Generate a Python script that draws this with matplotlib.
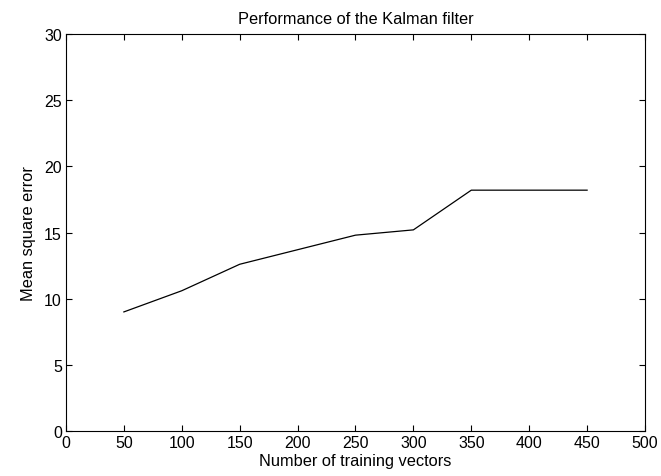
import numpy as np
import matplotlib.pyplot as plt

plt.rcParams['font.family'] = ['Liberation Sans', 'DejaVu Sans']

# training set sizes and resulting mean square error
n_vectors = [50, 100, 150, 200, 250, 300, 350, 400, 450]
mse = [9.0, 10.6, 12.6, 13.7, 14.8, 15.2, 18.2, 18.2, 18.2]

fig = plt.figure(figsize=(6.61, 4.77), dpi=100)
ax = fig.add_axes([0.0998, 0.0943, 0.8760, 0.8323])

ax.plot(n_vectors, mse, color='k', linewidth=0.9)

ax.set_xlim(0, 500)
ax.set_ylim(0, 30)
ax.set_xticks(np.arange(0, 501, 50))
ax.set_yticks(np.arange(0, 31, 5))
ax.tick_params(direction='in', top=True, right=True, labelsize=11.5, length=4, width=0.8, pad=3)
for s in ax.spines.values():
    s.set_linewidth(0.8)

ax.set_title('Performance of the Kalman filter', fontsize=11.8, pad=8)
ax.set_xlabel('Number of training vectors', fontsize=11.8, labelpad=2)
ax.set_ylabel('Mean square error', fontsize=11.8, labelpad=6)

fig.savefig('out.png', dpi=100)
